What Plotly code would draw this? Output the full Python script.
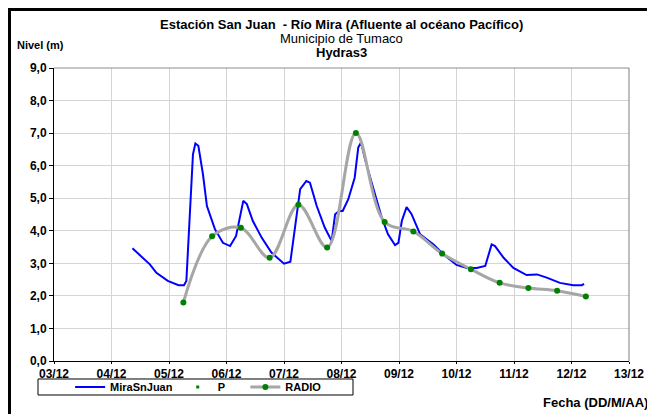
import plotly.graph_objects as go

# Nivel MiraSnJuan (Hydras3), lectura horaria aproximada
fecha_hydras = [
    "2012-12-04 08:45", "2012-12-04 12:30", "2012-12-04 16:00", "2012-12-04 18:45",
    "2012-12-04 23:30", "2012-12-05 04:00", "2012-12-05 06:15", "2012-12-05 07:15",
    "2012-12-05 08:45", "2012-12-05 10:00", "2012-12-05 11:00", "2012-12-05 12:15",
    "2012-12-05 14:10", "2012-12-05 15:50", "2012-12-05 19:10", "2012-12-05 22:30",
    "2012-12-06 01:30", "2012-12-06 04:00", "2012-12-06 07:00", "2012-12-06 08:30",
    "2012-12-06 11:00", "2012-12-06 14:40", "2012-12-06 18:45", "2012-12-07 00:00",
    "2012-12-07 02:40", "2012-12-07 03:50", "2012-12-07 06:45", "2012-12-07 09:20",
    "2012-12-07 10:50", "2012-12-07 13:40", "2012-12-07 17:00", "2012-12-07 19:10",
    "2012-12-07 19:55", "2012-12-07 21:20", "2012-12-07 23:00", "2012-12-08 00:30",
    "2012-12-08 02:50", "2012-12-08 05:30", "2012-12-08 07:00", "2012-12-08 08:10",
    "2012-12-08 09:50", "2012-12-08 13:10", "2012-12-08 16:50", "2012-12-08 19:25",
    "2012-12-08 22:20", "2012-12-08 23:45", "2012-12-09 01:10", "2012-12-09 03:10",
    "2012-12-09 05:15", "2012-12-09 08:50", "2012-12-09 14:25", "2012-12-09 18:30",
    "2012-12-10 00:00", "2012-12-10 04:20", "2012-12-10 08:25", "2012-12-10 12:00",
    "2012-12-10 14:40", "2012-12-10 16:05", "2012-12-10 19:40", "2012-12-10 23:45",
    "2012-12-11 05:15", "2012-12-11 09:35", "2012-12-11 13:40", "2012-12-11 19:10",
    "2012-12-12 00:45", "2012-12-12 04:20", "2012-12-12 05:15",
]
nivel_hydras = [
    3.46, 3.22, 2.97, 2.71,
    2.46, 2.33, 2.33, 2.46,
    4.61, 6.35, 6.68, 6.61,
    5.74, 4.76, 4.05, 3.63,
    3.53, 3.84, 4.92, 4.82,
    4.30, 3.79, 3.33, 2.99,
    3.05, 3.69, 5.28, 5.53,
    5.48, 4.76, 4.10, 3.79,
    3.69, 4.51, 4.61, 4.61,
    4.97, 5.63, 6.56, 6.71,
    6.20, 5.33, 4.40, 3.89,
    3.56, 3.63, 4.30, 4.73,
    4.51, 3.89, 3.58, 3.28,
    2.95, 2.86, 2.86, 2.92,
    3.58, 3.53, 3.17, 2.86,
    2.64, 2.66, 2.56, 2.40,
    2.33, 2.33, 2.37,
]

# Lecturas P / RADIO cada 12 h
fecha_radio = [
    "2012-12-05 06:00", "2012-12-05 18:00", "2012-12-06 06:00", "2012-12-06 18:00",
    "2012-12-07 06:00", "2012-12-07 18:00", "2012-12-08 06:00", "2012-12-08 18:00",
    "2012-12-09 06:00", "2012-12-09 18:00", "2012-12-10 06:00", "2012-12-10 18:00",
    "2012-12-11 06:00", "2012-12-11 18:00", "2012-12-12 06:00",
]
nivel_radio = [1.80, 3.83, 4.09, 3.17, 4.80, 3.49, 7.00, 4.27,
               3.98, 3.30, 2.82, 2.40, 2.24, 2.16, 1.98]

FONT = "Liberation Sans, Arial, sans-serif"
NB = "\u00a0"

fig = go.Figure()

fig.add_trace(go.Scatter(
    x=fecha_hydras, y=nivel_hydras,
    mode='lines',
    line=dict(color='#0000ff', width=2),
    name='MiraSnJuan'
))

fig.add_trace(go.Scatter(
    x=fecha_radio, y=nivel_radio,
    mode='markers',
    marker=dict(color='#008000', size=3, symbol='square'),
    name='P' + NB * 5
))

fig.add_trace(go.Scatter(
    x=fecha_radio, y=nivel_radio,
    mode='lines+markers',
    line=dict(color='#a6a6a6', width=3, shape='spline', smoothing=1.0),
    marker=dict(color='#008000', size=6),
    name='RADIO'
))

# marco exterior, borde gris del area de trazado y caja de leyenda
fig.add_shape(type='rect', xref='paper', yref='paper',
              x0=-0.0774, x1=1.3, y0=-0.4, y1=1.1997,
              line=dict(color='black', width=3), layer='above')
fig.add_shape(type='line', xref='paper', yref='paper',
              x0=0, x1=1, y0=1, y1=1, line=dict(color='#8c8c8c', width=1))
fig.add_shape(type='line', xref='paper', yref='paper',
              x0=1, x1=1, y0=0, y1=1, line=dict(color='#7f7f7f', width=1))
fig.add_shape(type='rect', xref='paper', yref='paper',
              x0=-0.0278, x1=0.5200, y0=-0.1160, y1=-0.0614,
              line=dict(color='black', width=1))

fig.add_annotation(text="<b>Estación San Juan  - Río Mira (Afluente al océano Pacífico)</b>",
                   xref='paper', yref='paper', x=0.5, y=1.150, yanchor='middle',
                   showarrow=False, font=dict(family=FONT, size=13, color='black'))
fig.add_annotation(text="Municipio de Tumaco",
                   xref='paper', yref='paper', x=0.5, y=1.099, yanchor='middle',
                   showarrow=False, font=dict(family=FONT, size=13, color='black'))
fig.add_annotation(text="<b>Hydras3</b>",
                   xref='paper', yref='paper', x=0.5, y=1.0546, yanchor='middle',
                   showarrow=False, font=dict(family=FONT, size=13, color='black'))
fig.add_annotation(text="<b>Nivel (m)</b>",
                   xref='paper', yref='paper', x=-0.0678, y=1.0785,
                   xanchor='left', yanchor='middle', showarrow=False,
                   font=dict(family=FONT, size=11, color='black'))
fig.add_annotation(text="<b>Fecha (DD/M/AA)</b>",
                   xref='paper', yref='paper', x=1.0365, y=-0.1433,
                   xanchor='right', yanchor='middle', showarrow=False,
                   font=dict(family=FONT, size=13, color='black'))

# la pagina tiene 8 px de margen: la figura se reduce en la misma medida
fig.update_layout(
    width=647, height=406,
    margin=dict(l=46, r=26, t=60, b=53, autoexpand=False),
    paper_bgcolor='white', plot_bgcolor='white',
    separators=',.',
    font=dict(family=FONT, color='black'),
    legend=dict(
        orientation='h', x=0.028, y=-0.0887, xanchor='left', yanchor='middle',
        borderwidth=0, bgcolor='rgba(0,0,0,0)',
        font=dict(family=FONT, size=11, color='black', weight='bold'),
    ),
    xaxis=dict(
        type='date',
        range=['2012-12-03', '2012-12-13'],
        dtick=86400000, tick0='2012-12-03',
        tickformat='%d/%m',
        showgrid=True, gridcolor='#d4d4d4', gridwidth=1,
        showline=True, linecolor='black', linewidth=1,
        ticks='outside', ticklen=2, tickcolor='black',
        tickfont=dict(family=FONT, size=12, color='black', weight='bold'),
        zeroline=False,
    ),
    yaxis=dict(
        range=[0, 9], dtick=1, tickformat='.1f',
        showgrid=True, gridcolor='#d4d4d4', gridwidth=1,
        showline=True, linecolor='black', linewidth=1,
        ticks='outside', ticklen=4, tickcolor='black',
        tickfont=dict(family=FONT, size=12, color='black', weight='bold'),
        zeroline=False,
    ),
)

fig.write_html("out.html")
